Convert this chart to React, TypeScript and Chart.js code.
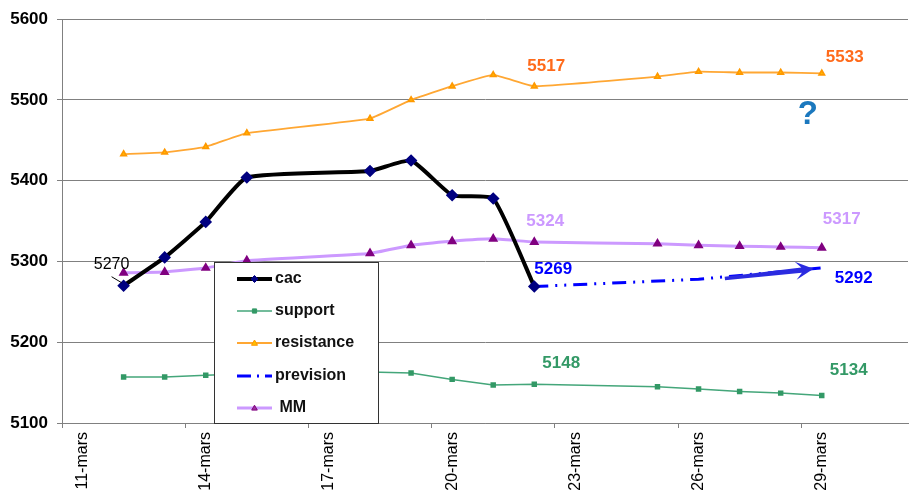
import React, { useEffect, useRef } from "react";
import { Chart, registerables } from "chart.js";

Chart.register(...registerables);

// ---- data ----
const cacDays = [12, 13, 14, 15, 18, 19, 20, 21, 22];
const cacValues = [5270, 5305, 5349, 5404, 5412, 5425, 5382, 5378, 5269];
const bandDays = [12, 13, 14, 15, 18, 19, 20, 21, 22, 25, 26, 27, 28, 29];
const supportValues = [5157, 5157, 5159, 5161, 5163, 5162, 5154, 5147, 5148, 5145, 5142, 5139, 5137, 5134];
const resistanceValues = [5433, 5435, 5442, 5459, 5477, 5500, 5517, 5531, 5517, 5529, 5535, 5534, 5534, 5533];
const mmValues = [5286, 5287, 5292, 5301, 5310, 5320, 5325, 5328, 5324, 5322, 5320, 5319, 5318, 5317];
const previsionDays = [22, 26, 29];
const previsionValues = [5269, 5278, 5292];
const seriesNames = ["cac", "support", "resistance", "prevision", "MM"];
const tickDays = [10.5, 13.5, 16.5, 19.5, 22.5, 25.5, 28.5];
const tickLabels = ["11-mars", "14-mars", "17-mars", "20-mars", "23-mars", "26-mars", "29-mars"];
const xMin = 10.5;
const xMax = 31.1;
const yMin = 5100;
const yMax = 5600;
const yStep = 100;
// arrow (in data units: day, value)
const arrowStart = [26.64, 5279];
const arrowEnd = [28.8, 5291];
const questionAt = [28.66, 5481];

const FONT = "'Liberation Sans', Arial, Helvetica, sans-serif";

const toPts = (xs: number[], ys: number[]) => xs.map((x, i) => ({ x, y: ys[i] }));

// label annotations anchored on data points: [datasetIndex, pointIndex, color, bold, dx, dy]
const pointLabels: [number, number, string, boolean, number, number][] = [
  [0, 0, "#000000", false, -12, -21],
  [2, 8, "#FF6A1A", true, 12, -20],
  [2, 13, "#FF6A1A", true, 23, -16],
  [4, 8, "#CC99FF", true, 11, -21],
  [4, 13, "#CC99FF", true, 20, -28],
  [0, 8, "#0000FF", true, 19, -17],
  [3, 2, "#0000FF", true, 32, 10],
  [1, 8, "#339966", true, 27, -21],
  [1, 13, "#339966", true, 27, -25],
];

function drawMarker(ctx: CanvasRenderingContext2D, style: string, x: number, y: number, r: number, fill: string, stroke: string) {
  ctx.save();
  ctx.fillStyle = fill;
  ctx.strokeStyle = stroke;
  ctx.lineWidth = 1;
  ctx.beginPath();
  if (style === "rectRot") {
    ctx.moveTo(x, y - r);
    ctx.lineTo(x + r, y);
    ctx.lineTo(x, y + r);
    ctx.lineTo(x - r, y);
    ctx.closePath();
  } else if (style === "rect") {
    ctx.rect(x - r * 0.75, y - r * 0.75, 1.5 * r, 1.5 * r);
  } else if (style === "triangle") {
    ctx.moveTo(x, y - r);
    ctx.lineTo(x + r, y + r * 0.75);
    ctx.lineTo(x - r, y + r * 0.75);
    ctx.closePath();
  }
  ctx.fill();
  ctx.stroke();
  ctx.restore();
}

const annotationPlugin = {
  id: "annotations",
  afterDatasetsDraw(chart: any) {
    const ctx: CanvasRenderingContext2D = chart.ctx;
    const xs = chart.scales.x;
    const ys = chart.scales.y;
    ctx.save();

    // arrow
    const x1 = xs.getPixelForValue(arrowStart[0]);
    const y1 = ys.getPixelForValue(arrowStart[1]);
    const x2 = xs.getPixelForValue(arrowEnd[0]);
    const y2 = ys.getPixelForValue(arrowEnd[1]);
    const ang = Math.atan2(y2 - y1, x2 - x1);
    const ux = Math.cos(ang), uy = Math.sin(ang);
    const px = -uy, py = ux;
    const headLen = 18, headW = 9, notch = 12;
    ctx.fillStyle = "#2B2BE0";
    ctx.beginPath();
    ctx.moveTo(x1 + px * 1.8, y1 + py * 1.8);
    ctx.lineTo(x2 - ux * notch + px * 2.6, y2 - uy * notch + py * 2.6);
    ctx.lineTo(x2 - ux * headLen + px * headW, y2 - uy * headLen + py * headW);
    ctx.lineTo(x2, y2);
    ctx.lineTo(x2 - ux * headLen - px * headW, y2 - uy * headLen - py * headW);
    ctx.lineTo(x2 - ux * notch - px * 2.6, y2 - uy * notch - py * 2.6);
    ctx.lineTo(x1 - px * 1.8, y1 - py * 1.8);
    ctx.closePath();
    ctx.fill();

    // question mark
    ctx.fillStyle = "#1B78BE";
    ctx.font = `bold 33px ${FONT}`;
    ctx.textAlign = "center";
    ctx.textBaseline = "middle";
    ctx.fillText("?", xs.getPixelForValue(questionAt[0]), ys.getPixelForValue(questionAt[1]));

    // point labels
    for (const [ds, idx, color, bold, dx, dy] of pointLabels) {
      const el = chart.getDatasetMeta(ds).data[idx];
      const val = chart.data.datasets[ds].data[idx].y;
      ctx.fillStyle = color;
      ctx.font = `${bold ? "bold " : ""}${bold ? 17 : 16}px ${FONT}`;
      ctx.textAlign = "center";
      ctx.textBaseline = "middle";
      ctx.fillText(String(val), el.x + dx, el.y + dy);
      if (!bold) {
        ctx.strokeStyle = "#000";
        ctx.lineWidth = 1;
        ctx.beginPath();
        ctx.moveTo(el.x + dx, el.y + dy + 12);
        ctx.lineTo(el.x - 2, el.y - 3);
        ctx.stroke();
      }
    }

    // legend box
    const bx = 214, by = 262, bw = 164, bh = chart.chartArea.bottom - 262;
    ctx.fillStyle = "#FFFFFF";
    ctx.fillRect(bx, by, bw, bh);
    ctx.strokeStyle = "#333333";
    ctx.lineWidth = 1;
    ctx.strokeRect(bx + 0.5, by + 0.5, bw, bh);
    const rows = [279, 311, 343, 376, 408];
    chart.data.datasets.forEach((d: any, i: number) => {
      const y = rows[i];
      ctx.save();
      ctx.strokeStyle = d.borderColor;
      ctx.lineWidth = d.borderWidth;
      ctx.setLineDash(d.borderDash ? [14, 6, 2, 6] : []);
      ctx.beginPath();
      ctx.moveTo(237, y);
      ctx.lineTo(272, y);
      ctx.stroke();
      ctx.restore();
      if (d.pointRadius > 0) {
        drawMarker(ctx, d.pointStyle, 254.5, y, d.pointRadius, d.pointBackgroundColor, d.pointBorderColor);
      }
      ctx.fillStyle = "#111111";
      ctx.font = `bold 16px ${FONT}`;
      ctx.textAlign = "left";
      ctx.textBaseline = "middle";
      ctx.fillText(seriesNames[i] === "MM" ? " MM" : seriesNames[i], 275, y);
    });

    ctx.restore();
  },
};

export default function App() {
  const ref = useRef<HTMLCanvasElement | null>(null);
  useEffect(() => {
    if (!ref.current) return;
    const chart = new Chart(ref.current, {
      type: "line",
      data: {
        datasets: [
          {
            label: seriesNames[0],
            data: toPts(cacDays, cacValues),
            borderColor: "#000000",
            borderWidth: 4,
            pointStyle: "rectRot",
            pointRadius: 3.5,
            pointBackgroundColor: "#000080",
            pointBorderColor: "#000080",
            tension: 0.15,
          },
          {
            label: seriesNames[1],
            data: toPts(bandDays, supportValues),
            borderColor: "#44A67A",
            borderWidth: 1.5,
            pointStyle: "rect",
            pointRadius: 2.8,
            pointBackgroundColor: "#339966",
            pointBorderColor: "#339966",
          },
          {
            label: seriesNames[2],
            data: toPts(bandDays, resistanceValues),
            borderColor: "#FFA733",
            borderWidth: 1.8,
            pointStyle: "triangle",
            pointRadius: 3,
            pointBackgroundColor: "#FFC000",
            pointBorderColor: "#FF9900",
            tension: 0.1,
          },
          {
            label: seriesNames[3],
            data: toPts(previsionDays, previsionValues),
            borderColor: "#0000FF",
            borderWidth: 3,
            borderDash: [14, 7, 2, 7, 2, 7],
            pointRadius: 0,
          },
          {
            label: seriesNames[4],
            data: toPts(bandDays, mmValues),
            borderColor: "#CC99FF",
            borderWidth: 3,
            pointStyle: "triangle",
            pointRadius: 2.8,
            pointBackgroundColor: "#993399",
            pointBorderColor: "#800080",
            tension: 0.1,
          },
        ],
      },
      options: {
        animation: false,
        responsive: false,
        maintainAspectRatio: false,
        layout: { padding: { top: 19, right: 1, left: 0, bottom: 0 } },
        plugins: { legend: { display: false }, tooltip: { enabled: false } },
        scales: {
          x: {
            type: "linear",
            min: xMin,
            max: xMax,
            afterBuildTicks: (s: any) => {
              s.ticks = tickDays.map((v) => ({ value: v }));
            },
            afterFit: (s: any) => {
              s.height = 76;
            },
            ticks: {
              autoSkip: false,
              minRotation: 90,
              maxRotation: 90,
              labelOffset: 20.6,
              padding: 4,
              color: "#000000",
              font: { family: FONT, size: 16 },
              callback: (_v: any, i: number) => tickLabels[i],
            },
            grid: { drawOnChartArea: false, drawTicks: true, tickLength: 5, color: "#808080" },
            border: { color: "#808080", width: 1 },
          },
          y: {
            min: yMin,
            max: yMax,
            afterFit: (s: any) => {
              s.width = 62;
            },
            ticks: {
              stepSize: yStep,
              padding: 9,
              color: "#000000",
              font: { family: FONT, size: 17, weight: "bold" },
              callback: (v: any) => String(v),
            },
            grid: { color: "#808080", tickLength: 5, drawTicks: true },
            border: { color: "#808080", width: 1 },
          },
        },
      },
      plugins: [annotationPlugin],
    } as any);
    return () => chart.destroy();
  }, []);
  return (
    <div style={{ position: "absolute", left: 0, top: 0, width: 916, height: 499, background: "#fff" }}>
      <canvas ref={ref} width={916} height={499} style={{ width: 916, height: 499 }} />
    </div>
  );
}
